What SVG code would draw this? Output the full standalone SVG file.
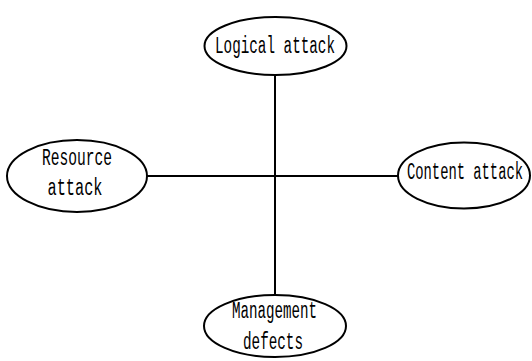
<svg xmlns="http://www.w3.org/2000/svg" width="532" height="361" viewBox="0 0 532 361">
<style>
.n{fill:#fff;stroke:#000;stroke-width:2}
.c{stroke:#000;stroke-width:2;fill:none}
text{font-family:"Liberation Mono","DejaVu Sans Mono",monospace;font-size:23px;fill:#000;text-anchor:middle}
</style>
<rect width="532" height="361" fill="#fff"/>
<g id="connectors">
<line class="c" x1="275" y1="75" x2="275" y2="295"/>
<line class="c" x1="147" y1="176" x2="398" y2="176"/>
</g>
<g id="logical">
<ellipse class="n" cx="275.5" cy="46" rx="71" ry="29"/>
<text x="275" y="53" textLength="120" lengthAdjust="spacingAndGlyphs">Logical attack</text>
</g>
<g id="resource">
<ellipse class="n" cx="77" cy="176" rx="70" ry="36"/>
<text x="77" y="165" textLength="70" lengthAdjust="spacingAndGlyphs">Resource</text>
<text x="75" y="195" textLength="55" lengthAdjust="spacingAndGlyphs">attack</text>
</g>
<g id="content">
<ellipse class="n" cx="464" cy="175.5" rx="66" ry="33"/>
<text x="465" y="179" textLength="116" lengthAdjust="spacingAndGlyphs">Content attack</text>
</g>
<g id="management">
<ellipse class="n" cx="275" cy="326" rx="71" ry="31"/>
<text x="274.5" y="318" textLength="85" lengthAdjust="spacingAndGlyphs">Management</text>
<text x="273" y="349" textLength="60" lengthAdjust="spacingAndGlyphs">defects</text>
</g>
</svg>
